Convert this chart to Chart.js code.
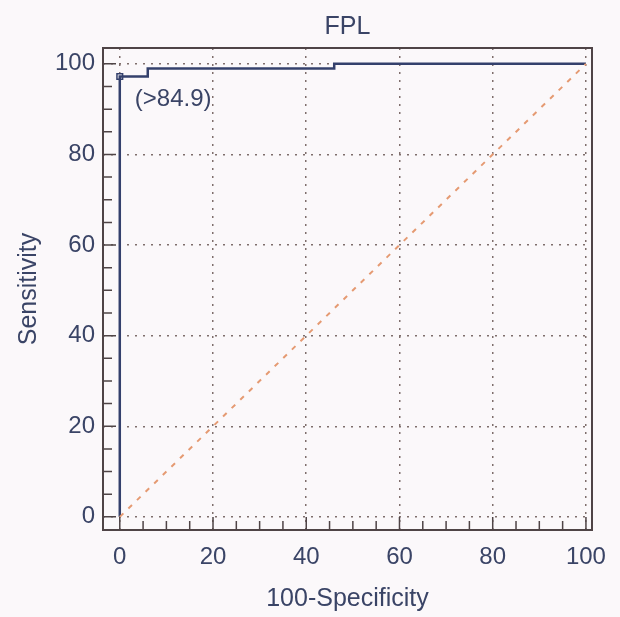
<!DOCTYPE html>
<html>
<head>
<meta charset="utf-8">
<script src="https://cdn.jsdelivr.net/npm/chart.js@4"></script>
<style>
  html, body { margin: 0; padding: 0; background: #fbf8fa; }
  #wrap { width: 620px; height: 617px; }
</style>
</head>
<body>
<div id="wrap"><canvas id="rocChart" width="620" height="617"></canvas></div>
<script>
// ROC curve points (100-Specificity, Sensitivity)
var specPts = [0, 0, 6, 6, 46, 46, 100];
var sensPts = [0, 97.2, 97.2, 99, 99, 100, 100];
// reference diagonal
var diagX = [0, 100];
var diagY = [0, 100];
// optimal criterion
var critX = [0];
var critY = [97.2];
var critLabel = '(>84.9)';
// axis ticks
var xTicks = [0, 20, 40, 60, 80, 100];
var yTicks = [0, 20, 40, 60, 80, 100];
var minorStep = 5;
var chartTitle = 'FPL';

var textColor = '#3a4466';
var frameColor = '#4f4446';
var fontFam = '"Liberation Sans", Arial, sans-serif';

function pts(xs, ys) {
    return xs.map(function (x, i) { return { x: x, y: ys[i] }; });
}

// frame + inward tick marks + title + criterion label
var framePlugin = {
    id: 'frame',
    afterDatasetsDraw: function (chart) {
        var ctx = chart.ctx, a = chart.chartArea;
        var xs = chart.scales.x, ys = chart.scales.y;
        ctx.save();
        ctx.strokeStyle = frameColor;
        ctx.lineWidth = 2;
        ctx.strokeRect(a.left, a.top, a.right - a.left, a.bottom - a.top);
        ctx.lineWidth = 1.5;
        ctx.beginPath();
        for (var v = 0; v <= 100; v += minorStep) {
            var len = (v % 20 === 0) ? 13 : 9;
            var px = xs.getPixelForValue(v);
            ctx.moveTo(px, a.bottom); ctx.lineTo(px, a.bottom - len);
            var py = ys.getPixelForValue(v);
            ctx.moveTo(a.left, py); ctx.lineTo(a.left + len, py);
        }
        ctx.stroke();
        ctx.fillStyle = textColor;
        ctx.textBaseline = 'middle';
        // title, centred over the plot area
        ctx.font = '25px ' + fontFam;
        ctx.textAlign = 'center';
        ctx.fillText(chartTitle, (a.left + a.right) / 2, 27);
        // criterion label
        ctx.font = '24px ' + fontFam;
        ctx.textAlign = 'left';
        ctx.fillText(critLabel, xs.getPixelForValue(critX[0]) + 15, ys.getPixelForValue(critY[0]) + 23);
        ctx.restore();
    }
};

var ctx = document.getElementById('rocChart').getContext('2d');
new Chart(ctx, {
    type: 'scatter',
    data: {
        datasets: [{
            label: 'Diagonal',
            data: pts(diagX, diagY),
            showLine: true,
            borderColor: '#e59a72',
            borderWidth: 2,
            borderDash: [5, 7],
            pointRadius: 0
        }, {
            label: 'FPL',
            data: pts(specPts, sensPts),
            showLine: true,
            borderColor: '#34406c',
            borderWidth: 2.5,
            pointRadius: 0
        }, {
            label: 'Criterion',
            data: pts(critX, critY),
            pointStyle: 'rect',
            pointRadius: 4,
            borderColor: '#34406c',
            borderWidth: 1.5,
            backgroundColor: '#fbf8fa'
        }]
    },
    options: {
        responsive: false,
        animation: false,
        layout: { padding: { left: 0, right: 28, top: 48, bottom: 0 } },
        plugins: {
            legend: { display: false },
            tooltip: { enabled: false },
            title: { display: false }
        },
        scales: {
            x: {
                type: 'linear',
                min: -3.6,
                max: 101.3,
                afterBuildTicks: function (s) { s.ticks = xTicks.map(function (v) { return { value: v }; }); },
                afterFit: function (s) { s.height = 87; },
                ticks: {
                    color: textColor,
                    padding: 13,
                    font: { family: fontFam, size: 24 }
                },
                grid: { color: '#7f6e6c', lineWidth: 1.5, drawTicks: false },
                border: { display: false, dash: [2, 6] },
                title: {
                    display: true,
                    text: '100-Specificity',
                    color: textColor,
                    font: { family: fontFam, size: 25 },
                    padding: { top: 0, bottom: 3 }
                }
            },
            y: {
                type: 'linear',
                min: -2.9,
                max: 103.5,
                afterBuildTicks: function (s) { s.ticks = yTicks.map(function (v) { return { value: v }; }); },
                afterFit: function (s) { s.width = 103; },
                ticks: {
                    color: textColor,
                    padding: 8,
                    font: { family: fontFam, size: 24 }
                },
                grid: { color: '#7f6e6c', lineWidth: 1.5, drawTicks: false },
                border: { display: false, dash: [2, 6] },
                title: {
                    display: true,
                    text: 'Sensitivity',
                    color: textColor,
                    font: { family: fontFam, size: 25 },
                    padding: { top: 14, bottom: 0 }
                }
            }
        }
    },
    plugins: [framePlugin]
});
</script>
</body>
</html>
